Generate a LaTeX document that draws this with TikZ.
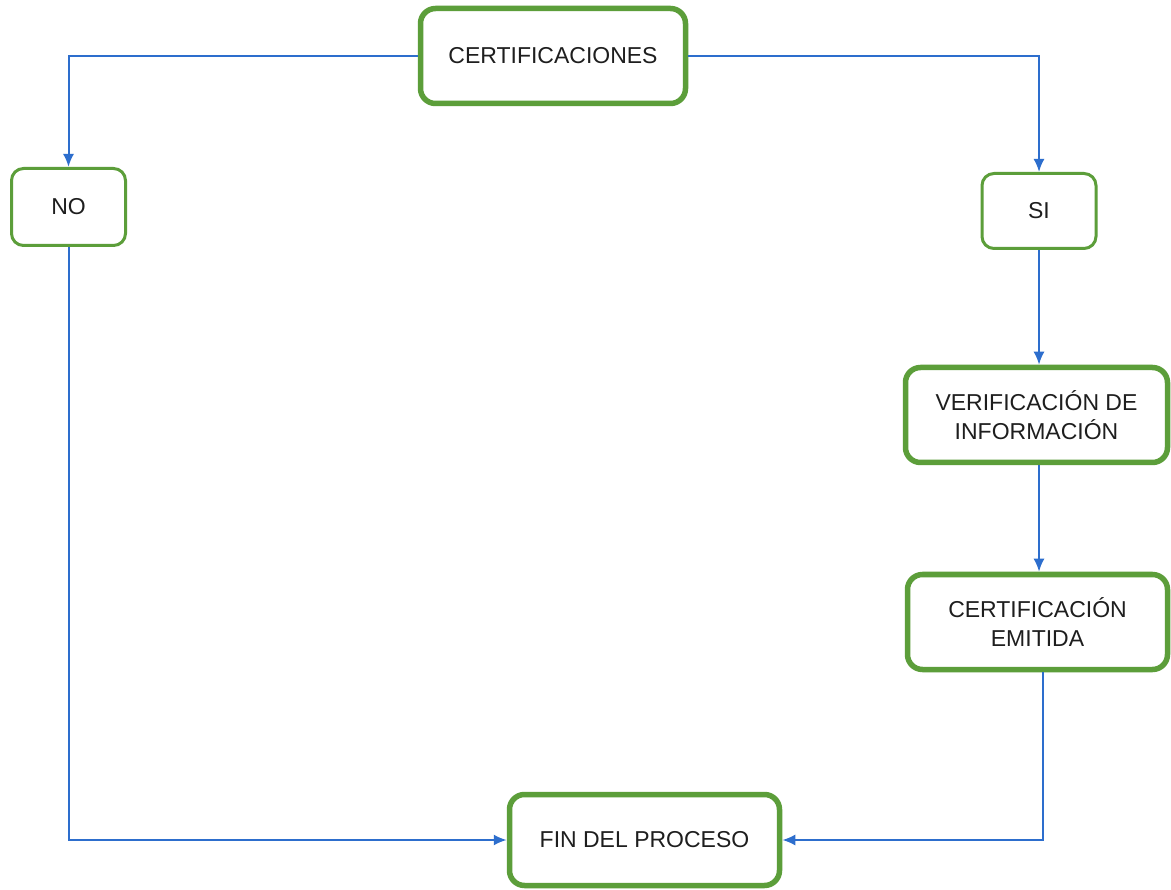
\documentclass[tikz,border=0pt]{standalone}
\usepackage{fontspec}
\setmainfont{Liberation Sans}
\usetikzlibrary{arrows.meta}
\definecolor{boxgreen}{RGB}{92,158,58}
\definecolor{linkblue}{RGB}{45,110,205}
\definecolor{txt}{RGB}{30,30,30}
\begin{document}
\begin{tikzpicture}[x=1pt,y=-1pt,
  box/.style={draw=boxgreen, line width=5.5pt, rounded corners=15pt, fill=white,
    text=txt, align=center, inner sep=0pt,
    font=\fontsize{23}{29}\selectfont},
  smallbox/.style={box, line width=3pt, rounded corners=12pt},
  link/.style={draw=linkblue, line width=2pt, -{Latex[length=13pt,width=11pt]}}
]
\useasboundingbox (0,0) rectangle (1171,890);
\fill[white] (0,0) rectangle (1171,890);

\node[box, minimum width=265pt, minimum height=95pt] (cert) at (553,56) {CERTIFICACIONES};
\node[smallbox, minimum width=114pt, minimum height=77pt] (no) at (68.5,207) {NO};
\node[smallbox, minimum width=114pt, minimum height=75pt] (si) at (1039,211) {SI};
\node[box, minimum width=262pt, minimum height=95pt] (verif) at (1036.5,415) {VERIFICACIÓN DE\\INFORMACIÓN};
\node[box, minimum width=260pt, minimum height=95pt] (emit) at (1037.5,622) {CERTIFICACIÓN\\EMITIDA};
\node[box, minimum width=270pt, minimum height=91pt] (fin) at (644.5,840) {FIN DEL PROCESO};

\draw[link] (cert.west) -| (no.north);
\draw[link] (cert.east) -| (si.north);
\draw[link] (si.south) -- (si.south |- verif.north);
\draw[link] (si.south |- verif.south) -- (si.south |- emit.north);
\draw[link] (no.south) |- (fin.west);
\coordinate (emitout) at ([xshift=5pt]emit.south);
\draw[link] (emitout) |- (fin.east);
\end{tikzpicture}
\end{document}
